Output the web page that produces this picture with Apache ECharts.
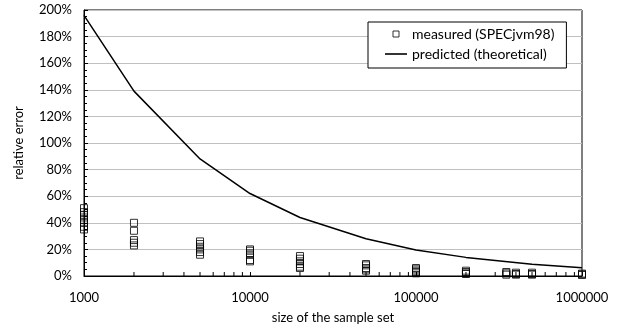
<!DOCTYPE html>
<html>
<head>
<meta charset="utf-8">
<script src="https://cdn.jsdelivr.net/npm/echarts@6/dist/echarts.min.js"></script>
<style>
html,body{margin:0;padding:0;background:#fff;}
#chart{width:625px;height:329px;}
</style>
</head>
<body>
<div id="chart"></div>
<script>
// ---- data ----
var measuredSizes = [1000, 2000, 5000, 10000, 20000, 50000, 100000, 200000, 350000, 400000, 500000, 1000000];
var measuredErrors = [
  [51, 48, 46, 44, 42, 40, 37, 35],
  [40, 34, 27, 25, 23],
  [26, 24, 22, 20, 18, 16],
  [20, 19, 17, 16, 12, 11],
  [15, 13, 11, 9, 7, 6],
  [9, 8, 6, 5, 4],
  [6, 5, 4, 3, 2],
  [4, 3, 2, 1.5],
  [3, 2, 1],
  [2.5, 1.5, 1],
  [2.5, 1.5, 1],
  [1.8, 1.2, 0.8]
];
var predictedSizes = [1000, 2000, 5000, 10000, 20000, 50000, 100000, 200000, 500000, 1000000];
var predictedErrors = [196, 139, 88, 62, 44, 28, 19.6, 14, 8.8, 6.2];
var xMinorTicks = [2000, 3000, 4000, 5000, 6000, 7000, 8000, 9000,
  20000, 30000, 40000, 50000, 60000, 70000, 80000, 90000,
  200000, 300000, 400000, 500000, 600000, 700000, 800000, 900000];
var seriesNames = ['measured (SPECjvm98)', 'predicted (theoretical)'];
var xAxisTitle = 'size of the sample set';
var yAxisTitle = 'relative error';

// ---- build ----
var scatterData = [];
measuredSizes.forEach(function (s, i) {
  measuredErrors[i].forEach(function (v) { scatterData.push([s, v]); });
});
var lineData = predictedSizes.map(function (s, i) { return [s, predictedErrors[i]]; });

var FONT = 'Lato';
var chart = echarts.init(document.getElementById('chart'), null, {renderer: 'canvas'});
chart.setOption({
  animation: false,
  backgroundColor: '#fff',
  textStyle: {fontFamily: FONT, color: '#000'},
  grid: {left: 84, right: 43, top: 10, bottom: 51, show: true, borderColor: '#000', borderWidth: 1, backgroundColor: 'transparent'},
  legend: {
    data: [
      {name: seriesNames[0], icon: 'path://M0,0H10V10H0Z', itemStyle: {color: 'rgba(0,0,0,0)', borderColor: '#000', borderWidth: 1}},
      {name: seriesNames[1], icon: 'path://M0,0H22V1.6H0Z', itemStyle: {color: '#000', borderWidth: 0}}
    ],
    orient: 'vertical',
    left: 368, top: 22,
    padding: [5, 12, 7, 17],
    itemGap: 6,
    itemWidth: 22, itemHeight: 6,
    backgroundColor: '#fff',
    borderColor: '#000', borderWidth: 1,
    textStyle: {fontFamily: FONT, fontSize: 14, color: '#000'}
  },
  xAxis: {
    type: 'log', logBase: 10, min: 1000, max: 1000000,
    name: xAxisTitle, nameLocation: 'middle', nameGap: 35,
    nameTextStyle: {fontFamily: FONT, fontSize: 13, color: '#000'},
    axisLine: {show: true, lineStyle: {color: '#000', width: 1}},
    axisTick: {show: true, inside: true, length: 4, lineStyle: {color: '#000'}},
    axisLabel: {margin: 15, fontFamily: FONT, fontSize: 13, color: '#000', formatter: function (v) { return String(Math.round(v)); }},
    splitLine: {show: false}
  },
  yAxis: {
    type: 'value', min: 0, max: 200, interval: 20,
    name: yAxisTitle, nameLocation: 'middle', nameGap: 59, nameRotate: 90,
    nameTextStyle: {fontFamily: FONT, fontSize: 13, color: '#000'},
    axisLine: {show: true, lineStyle: {color: '#000', width: 1}},
    axisTick: {show: true, inside: true, length: 4, lineStyle: {color: '#000'}},
    minorTick: {show: true, splitNumber: 4, length: 3, lineStyle: {color: '#000'}},
    axisLabel: {margin: 12, fontFamily: FONT, fontSize: 13, color: '#000', formatter: '{value}%'},
    splitLine: {show: true, lineStyle: {color: '#c0c0c0', width: 1}}
  },
  series: [
    {
      name: seriesNames[0], type: 'scatter', symbol: 'rect', symbolSize: 7,
      itemStyle: {color: 'rgba(0,0,0,0)', borderColor: '#000', borderWidth: 1},
      data: scatterData, z: 3
    },
    {
      name: seriesNames[1], type: 'line', symbol: 'none', showSymbol: false,
      lineStyle: {color: '#000', width: 1.5},
      itemStyle: {color: '#000'},
      data: lineData, z: 2
    },
    {
      name: 'minorTicksX', type: 'custom', silent: true, z: 4,
      data: xMinorTicks.map(function (v) { return [v, 0]; }),
      renderItem: function (params, api) {
        var p = api.coord([api.value(0), 0]);
        return {type: 'line', shape: {x1: p[0], y1: p[1], x2: p[0], y2: p[1] - 4}, style: {stroke: '#000', lineWidth: 1}};
      }
    }
  ]
});
</script>
</body>
</html>
